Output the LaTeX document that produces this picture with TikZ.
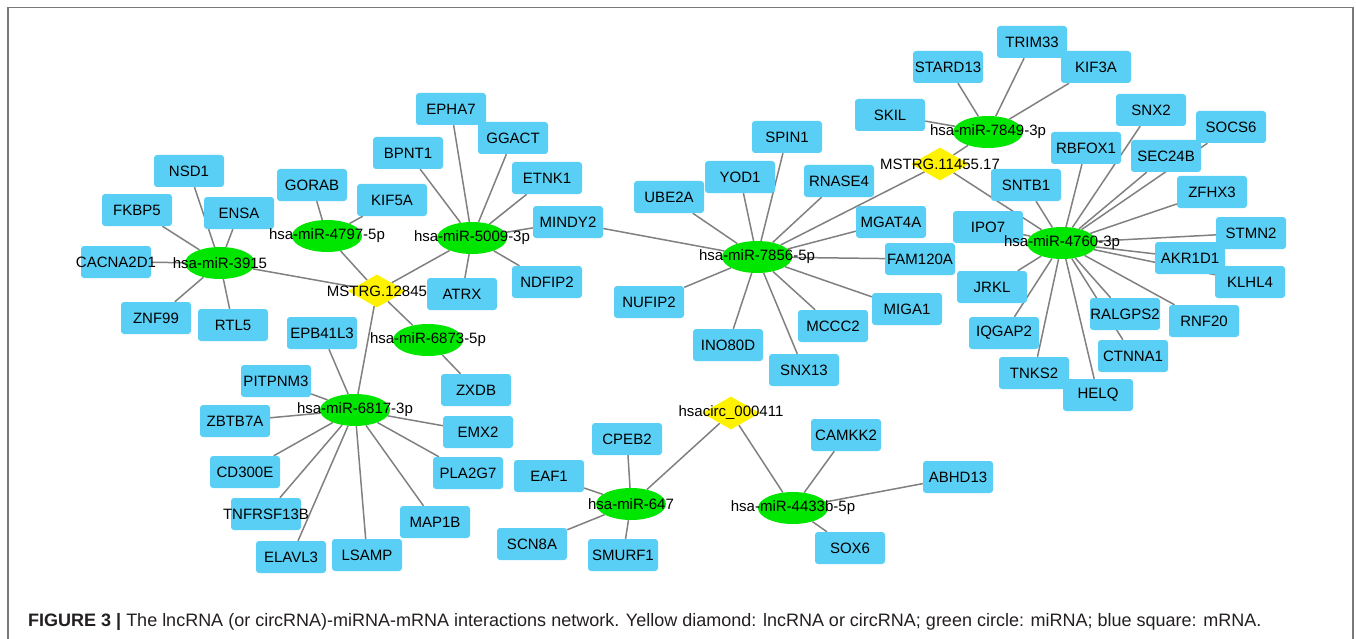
\documentclass[tikz,border=0pt]{standalone}
\usepackage{fontspec}
\setmainfont{Liberation Sans}
\usepackage{tikz}
\usetikzlibrary{shapes.geometric}
\usetikzlibrary{backgrounds}
\definecolor{mrnablue}{RGB}{90,207,245}
\definecolor{mirnagreen}{RGB}{0,230,0}
\definecolor{lncyellow}{RGB}{255,242,0}
\definecolor{edgegray}{RGB}{128,128,128}
\definecolor{framegray}{RGB}{120,120,120}
\definecolor{captext}{RGB}{35,31,32}
\newcommand{\spill}[1]{\makebox[0pt]{#1}}

\begin{document}
\begin{tikzpicture}[x=1pt,y=-1pt]
      \tikzstyle{every node}=[font=\fontsize{15}{18}\selectfont, inner sep=0pt]
      \tikzstyle{mrna}=[rectangle, rounded corners=3pt, fill=mrnablue, minimum width=70pt, minimum height=32pt]
      \tikzstyle{mirna}=[ellipse, fill=mirnagreen, minimum width=70pt, minimum height=32pt]
      \tikzstyle{lnc}=[diamond, fill=lncyellow, minimum width=58pt, minimum height=33pt]
      \tikzstyle{edge}=[draw=edgegray, line width=1.5pt]
      \useasboundingbox (0,0) rectangle (1356,639);
      \draw[framegray, line width=1.2pt] (8,639) -- (8,7.5) -- (1353,7.5) -- (1353,639);
      \node[mrna] (nsd1) at (189,171) {NSD1};
      \node[mrna] (fkbp5) at (137,210) {FKBP5};
      \node[mrna] (ensa) at (239,213) {ENSA};
      \node[mrna] (cacna2d1) at (116,262) {\spill{CACNA2D1}};
      \node[mrna] (znf99) at (156,318) {ZNF99};
      \node[mrna] (rtl5) at (233,325) {RTL5};
      \node[mrna] (gorab) at (312,185) {GORAB};
      \node[mrna] (kif5a) at (392,200) {KIF5A};
      \node[mrna] (bpnt1) at (408,153) {BPNT1};
      \node[mrna] (epha7) at (451,109) {EPHA7};
      \node[mrna] (ggact) at (513,138) {GGACT};
      \node[mrna] (etnk1) at (547,178) {ETNK1};
      \node[mrna] (mindy2) at (568,222) {MINDY2};
      \node[mrna] (ndfip2) at (547,282) {NDFIP2};
      \node[mrna] (atrx) at (462,294) {ATRX};
      \node[mrna] (epb41l3) at (322,333) {EPB41L3};
      \node[mrna] (zxdb) at (476,390) {ZXDB};
      \node[mrna] (pitpnm3) at (276,381) {PITPNM3};
      \node[mrna] (zbtb7a) at (235,421) {ZBTB7A};
      \node[mrna] (emx2) at (478,432) {EMX2};
      \node[mrna] (cd300e) at (245,472) {CD300E};
      \node[mrna] (pla2g7) at (468,473) {PLA2G7};
      \node[mrna] (tnfrsf13b) at (266,514) {\spill{TNFRSF13B}};
      \node[mrna] (map1b) at (435,522) {MAP1B};
      \node[mrna] (elavl3) at (291,557) {ELAVL3};
      \node[mrna] (lsamp) at (367,555) {LSAMP};
      \node[mrna] (ube2a) at (669,197) {UBE2A};
      \node[mrna] (yod1) at (740,177) {YOD1};
      \node[mrna] (spin1) at (787,137) {SPIN1};
      \node[mrna] (rnase4) at (839,181) {RNASE4};
      \node[mrna] (mgat4a) at (891,222) {MGAT4A};
      \node[mrna] (fam120a) at (920,259) {FAM120A};
      \node[mrna] (nufip2) at (649,302) {NUFIP2};
      \node[mrna] (ino80d) at (728,345) {INO80D};
      \node[mrna] (snx13) at (804,370) {SNX13};
      \node[mrna] (mccc2) at (833,326) {MCCC2};
      \node[mrna] (miga1) at (907,309) {MIGA1};
      \node[mrna] (trim33) at (1032,42) {TRIM33};
      \node[mrna] (stard13) at (948,67) {STARD13};
      \node[mrna] (kif3a) at (1096,67) {KIF3A};
      \node[mrna] (skil) at (890,115) {SKIL};
      \node[mrna] (snx2) at (1151,110) {SNX2};
      \node[mrna] (socs6) at (1231,127) {SOCS6};
      \node[mrna] (rbfox1) at (1086,148) {RBFOX1};
      \node[mrna] (sec24b) at (1166,156) {SEC24B};
      \node[mrna] (sntb1) at (1026,185) {SNTB1};
      \node[mrna] (zfhx3) at (1212,192) {ZFHX3};
      \node[mrna] (ipo7) at (988,227) {IPO7};
      \node[mrna] (stmn2) at (1251,233) {STMN2};
      \node[mrna] (akr1d1) at (1190,258) {AKR1D1};
      \node[mrna] (klhl4) at (1250,282) {KLHL4};
      \node[mrna] (jrkl) at (992,287) {JRKL};
      \node[mrna] (ralgps2) at (1125,314) {\spill{RALGPS2}};
      \node[mrna] (rnf20) at (1204,321) {RNF20};
      \node[mrna] (iqgap2) at (1004,333) {IQGAP2};
      \node[mrna] (ctnna1) at (1133,356) {CTNNA1};
      \node[mrna] (tnks2) at (1034,373) {TNKS2};
      \node[mrna] (helq) at (1098,395) {HELQ};
      \node[mrna] (cpeb2) at (627,439) {CPEB2};
      \node[mrna] (eaf1) at (549,476) {EAF1};
      \node[mrna] (scn8a) at (532,544) {SCN8A};
      \node[mrna] (smurf1) at (623,555) {SMURF1};
      \node[mrna] (camkk2) at (846,435) {CAMKK2};
      \node[mrna] (abhd13) at (958,477) {ABHD13};
      \node[mrna] (sox6) at (850,548) {SOX6};
      \node[lnc] (d12845) at (377,291) {\spill{MSTRG.12845}};
      \node[lnc] (d11455) at (940,164) {\spill{MSTRG.11455.17}};
      \node[lnc] (dcirc) at (731,413) {\spill{hsacirc\_000411}};
      \node[mirna] (m3915) at (220,263) {\spill{hsa-miR-3915}};
      \node[mirna] (m4797) at (327,236) {\spill{hsa-miR-4797-5p}};
      \node[mirna] (m5009) at (472,238) {\spill{hsa-miR-5009-3p}};
      \node[mirna] (m6873) at (428,340) {\spill{hsa-miR-6873-5p}};
      \node[mirna] (m6817) at (355,410) {\spill{hsa-miR-6817-3p}};
      \node[mirna] (m7856) at (757,257) {\spill{hsa-miR-7856-5p}};
      \node[mirna] (m7849) at (988,132) {\spill{hsa-miR-7849-3p}};
      \node[mirna] (m4760) at (1062,243) {\spill{hsa-miR-4760-3p}};
      \node[mirna] (m647) at (631,504) {\spill{hsa-miR-647}};
      \node[mirna] (m4433) at (793,508) {\spill{hsa-miR-4433b-5p}};
      \begin{pgfonlayer}{background}
      \draw[edge] (d12845) -- (m3915) (d12845) -- (m4797) (d12845) -- (m5009)
        (d12845) -- (m6873) (d12845) -- (m6817);
      \draw[edge] (m3915) -- (nsd1) (m3915) -- (fkbp5) (m3915) -- (ensa)
        (m3915) -- (cacna2d1) (m3915) -- (znf99) (m3915) -- (rtl5);
      \draw[edge] (m4797) -- (gorab) (m4797) -- (kif5a);
      \draw[edge] (m5009) -- (bpnt1) (m5009) -- (epha7) (m5009) -- (ggact)
        (m5009) -- (etnk1) (m5009) -- (mindy2) (m5009) -- (ndfip2) (m5009) -- (atrx);
      \draw[edge] (m6873) -- (zxdb);
      \draw[edge] (m6817) -- (epb41l3) (m6817) -- (pitpnm3) (m6817) -- (zbtb7a)
        (m6817) -- (cd300e) (m6817) -- (tnfrsf13b) (m6817) -- (elavl3)
        (m6817) -- (lsamp) (m6817) -- (map1b) (m6817) -- (pla2g7) (m6817) -- (emx2);
      \draw[edge] (m7856) -- (mindy2) (m7856) -- (ube2a) (m7856) -- (yod1)
        (m7856) -- (spin1) (m7856) -- (rnase4) (m7856) -- (mgat4a)
        (m7856) -- (fam120a) (m7856) -- (miga1) (m7856) -- (mccc2)
        (m7856) -- (snx13) (m7856) -- (ino80d) (m7856) -- (nufip2);
      \draw[edge] (d11455) -- (m7856) (d11455) -- (m7849) (d11455) -- (m4760);
      \draw[edge] (m7849) -- (skil) (m7849) -- (stard13) (m7849) -- (trim33)
        (m7849) -- (kif3a);
      \draw[edge] (m4760) -- (sntb1) (m4760) -- (ipo7) (m4760) -- (rbfox1)
        (m4760) -- (snx2) (m4760) -- (sec24b) (m4760) -- (socs6)
        (m4760) -- (zfhx3) (m4760) -- (stmn2) (m4760) -- (akr1d1)
        (m4760) -- (klhl4) (m4760) -- (rnf20) (m4760) -- (ralgps2)
        (m4760) -- (ctnna1) (m4760) -- (helq) (m4760) -- (tnks2)
        (m4760) -- (iqgap2) (m4760) -- (jrkl);
      \draw[edge] (dcirc) -- (m647) (dcirc) -- (m4433);
      \draw[edge] (m647) -- (cpeb2) (m647) -- (eaf1) (m647) -- (scn8a)
        (m647) -- (smurf1);
      \draw[edge] (m4433) -- (camkk2) (m4433) -- (abhd13) (m4433) -- (sox6);
      \end{pgfonlayer}
      \node[anchor=base west, font=\fontsize{18}{21}\selectfont, text=captext] (caption) at (28,626)
        {\textbf{FIGURE 3 |} The lncRNA (or circRNA)-miRNA-mRNA interactions network. Yellow diamond: lncRNA or circRNA; green circle: miRNA; blue square: mRNA.};
    \end{tikzpicture}
\end{document}
